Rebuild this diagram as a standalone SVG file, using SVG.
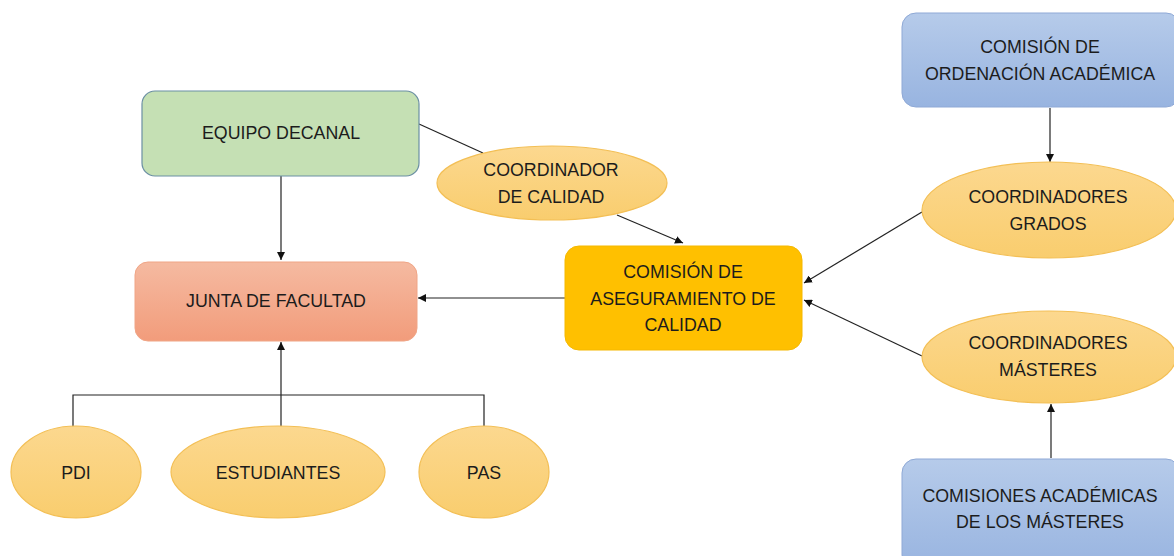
<svg xmlns="http://www.w3.org/2000/svg" width="1174" height="556" viewBox="0 0 1174 556">
<style>
text{font-family:"Liberation Sans",Arial,sans-serif;font-size:17.8px;fill:#1c1c1c;text-anchor:middle;dominant-baseline:central}
.ell{fill:url(#gy);stroke:#f3bf55;stroke-width:1.2}
.blue{fill:url(#gb);stroke:#8fa9d6;stroke-width:1}
.c{stroke:#222;stroke-width:1.2;fill:none}
</style>
<defs>
<linearGradient id="gy" x1="0" y1="0" x2="0" y2="1"><stop offset="0" stop-color="#fcd88f"/><stop offset="1" stop-color="#f9cd6e"/></linearGradient>
<linearGradient id="gb" x1="0" y1="0" x2="0" y2="1"><stop offset="0" stop-color="#b6cbea"/><stop offset="1" stop-color="#98b4e0"/></linearGradient>
<linearGradient id="gr" x1="0" y1="0" x2="0" y2="1"><stop offset="0" stop-color="#f5baa1"/><stop offset="1" stop-color="#f29c7b"/></linearGradient>
<marker id="ar" viewBox="0 0 10 10" refX="10" refY="5" markerWidth="8" markerHeight="8" orient="auto" markerUnits="userSpaceOnUse"><path d="M0,0L10,5L0,10z" fill="#111"/></marker>
</defs>
<g id="connectors">
<line class="c" x1="281" y1="176" x2="281" y2="260" marker-end="url(#ar)"/>
<line class="c" x1="419" y1="124" x2="483" y2="153"/>
<line class="c" x1="617" y1="215" x2="683" y2="243" marker-end="url(#ar)"/>
<line class="c" x1="565" y1="298" x2="418" y2="298" marker-end="url(#ar)"/>
<line class="c" x1="1050" y1="108" x2="1050" y2="162" marker-end="url(#ar)"/>
<line class="c" x1="922" y1="212" x2="804" y2="283" marker-end="url(#ar)"/>
<line class="c" x1="922" y1="356" x2="804" y2="300" marker-end="url(#ar)"/>
<line class="c" x1="1051" y1="458" x2="1051" y2="404" marker-end="url(#ar)"/>
<polyline class="c" points="73,427 73,395 484,395 484,427"/>
<line class="c" x1="281" y1="427" x2="281" y2="342" marker-end="url(#ar)"/>
</g>
<g id="equipo-decanal">
<rect x="142" y="91" width="277" height="85" rx="13" fill="#c5e0b4" stroke="#6b8fa3" stroke-width="1.2"/>
<text x="281" y="133">EQUIPO DECANAL</text>
</g>
<g id="junta-facultad">
<rect x="135" y="262" width="282" height="79" rx="13" fill="url(#gr)" stroke="#f0a586" stroke-width="1"/>
<text x="276" y="301">JUNTA DE FACULTAD</text>
</g>
<g id="coordinador-calidad">
<ellipse class="ell" cx="552" cy="183" rx="115" ry="37"/>
<text x="551" y="170">COORDINADOR</text>
<text x="551" y="197">DE CALIDAD</text>
</g>
<g id="comision-aseguramiento">
<rect x="565" y="246" width="237" height="104" rx="14" fill="#ffc000" stroke="#f5b800" stroke-width="1"/>
<text x="683" y="272">COMISIÓN DE</text>
<text x="683" y="299">ASEGURAMIENTO DE</text>
<text x="683" y="325">CALIDAD</text>
</g>
<g id="comision-ordenacion">
<rect x="902" y="13" width="278" height="94" rx="14" class="blue"/>
<text x="1040" y="47">COMISIÓN DE</text>
<text x="1040" y="74">ORDENACIÓN ACADÉMICA</text>
</g>
<g id="coordinadores-grados">
<ellipse class="ell" cx="1049" cy="210" rx="127" ry="48"/>
<text x="1048" y="197">COORDINADORES</text>
<text x="1048" y="224">GRADOS</text>
</g>
<g id="coordinadores-masteres">
<ellipse class="ell" cx="1049" cy="357" rx="127" ry="46"/>
<text x="1048" y="343">COORDINADORES</text>
<text x="1048" y="370">MÁSTERES</text>
</g>
<g id="comisiones-academicas">
<rect x="902" y="459" width="278" height="110" rx="14" class="blue"/>
<text x="1040" y="496">COMISIONES ACADÉMICAS</text>
<text x="1040" y="522">DE LOS MÁSTERES</text>
</g>
<g id="pdi">
<ellipse class="ell" cx="76" cy="472" rx="65" ry="46"/>
<text x="76" y="473">PDI</text>
</g>
<g id="estudiantes">
<ellipse class="ell" cx="278" cy="472" rx="107" ry="46"/>
<text x="278" y="473">ESTUDIANTES</text>
</g>
<g id="pas">
<ellipse class="ell" cx="484" cy="472" rx="65" ry="46"/>
<text x="484" y="473">PAS</text>
</g>
</svg>
